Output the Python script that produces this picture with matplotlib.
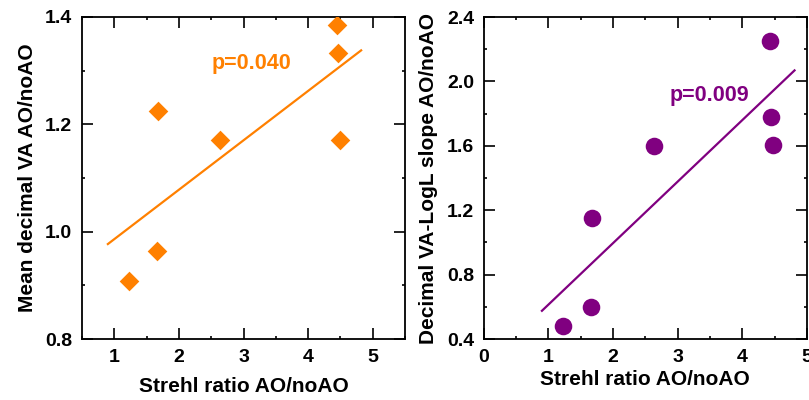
import numpy as np
import matplotlib
matplotlib.use("Agg")
import matplotlib.pyplot as plt
from matplotlib.ticker import MultipleLocator, FormatStrFormatter

plt.rcParams['font.family'] = ['Liberation Sans', 'DejaVu Sans']
plt.rcParams['font.weight'] = 'bold'

# dados
strehl_va = [4.44, 4.46, 1.68, 2.64, 4.49, 1.66, 1.23]
va_ratio = [1.386, 1.333, 1.224, 1.170, 1.170, 0.964, 0.908]
fit_range_va = [0.9, 4.82]
p_va = "p=0.040"

strehl_slope = [4.43, 4.44, 4.48, 2.64, 1.68, 1.66, 1.22]
slope_ratio = [2.253, 1.778, 1.605, 1.599, 1.149, 0.601, 0.483]
fit_range_slope = [0.9, 4.81]
p_slope = "p=0.009"

laranja = '#FF8000'
roxo = '#800080'


def estilo_eixo(ax, xmaj, ymaj, ymin_loc):
    ax.xaxis.set_major_locator(MultipleLocator(xmaj))
    ax.xaxis.set_minor_locator(MultipleLocator(xmaj / 2))
    ax.yaxis.set_major_locator(MultipleLocator(ymaj))
    ax.yaxis.set_minor_locator(MultipleLocator(ymin_loc))
    ax.yaxis.set_major_formatter(FormatStrFormatter('%.1f'))
    ax.tick_params(which='both', direction='in', width=1.2, labelsize=14,
                   pad=7, top=True, right=True, color='black')
    ax.tick_params(which='major', length=8)
    ax.tick_params(which='minor', length=2.5)
    for s in ax.spines.values():
        s.set_linewidth(1.3)
        s.set_color('black')


def linha_ajuste(ax, x, y, faixa, cor):
    coef = np.polyfit(x, y, 1)
    xs = np.array(faixa)
    ax.plot(xs, np.polyval(coef, xs), color=cor, lw=1.6)


fig = plt.figure(figsize=(8.09, 4.0), dpi=100)
ax1 = fig.add_axes([0.1014, 0.1525, 0.3993, 0.805])
ax2 = fig.add_axes([0.598, 0.1525, 0.3993, 0.805])

# painel esquerdo
linha_ajuste(ax1, strehl_va, va_ratio, fit_range_va, laranja)
ax1.scatter(strehl_va, va_ratio, marker='D', s=100, color=laranja, zorder=3, linewidths=0)
ax1.set_xlim(0.5, 5.5)
ax1.set_ylim(0.8, 1.4)
estilo_eixo(ax1, 1, 0.2, 0.1)
ax1.set_xlabel('Strehl ratio AO/noAO', fontsize=15, fontweight='bold', labelpad=8)
ax1.set_ylabel('Mean decimal VA AO/noAO', fontsize=15, fontweight='bold', labelpad=6)
ax1.text(2.5, 1.314, p_va, color=laranja, fontsize=15.5, fontweight='bold', va='center', ha='left')

# painel direito
linha_ajuste(ax2, strehl_slope, slope_ratio, fit_range_slope, roxo)
ax2.scatter(strehl_slope, slope_ratio, marker='o', s=160, color=roxo, zorder=3, linewidths=0)
ax2.set_xlim(0, 5)
ax2.set_ylim(0.4, 2.4)
estilo_eixo(ax2, 1, 0.4, 0.2)
ax2.set_xlabel('Strehl ratio AO/noAO', fontsize=15, fontweight='bold', labelpad=3)
ax2.set_ylabel('Decimal VA-LogL slope AO/noAO', fontsize=15, fontweight='bold', labelpad=6)
ax2.text(2.88, 1.912, p_slope, color=roxo, fontsize=15.5, fontweight='bold', va='center', ha='left')

fig.savefig('out.png', dpi=100)
